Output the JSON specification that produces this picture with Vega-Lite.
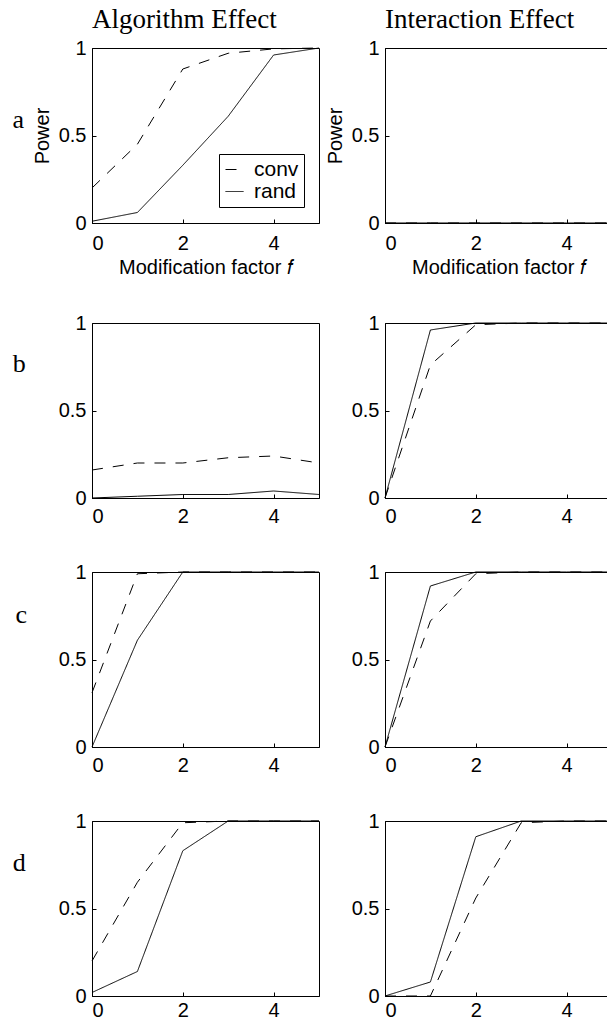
{
  "$schema": "https://vega.github.io/schema/vega-lite/v6.json",
  "padding": {"left": 12, "top": 5, "right": 0, "bottom": 0},
  "background": "white",
  "data": {"values": [
    {"row":"a","effect":"Algorithm","method":"conv","f":0,"power":0.2},
    {"row":"a","effect":"Algorithm","method":"conv","f":1,"power":0.45},
    {"row":"a","effect":"Algorithm","method":"conv","f":2,"power":0.88},
    {"row":"a","effect":"Algorithm","method":"conv","f":3,"power":0.97},
    {"row":"a","effect":"Algorithm","method":"conv","f":4,"power":0.995},
    {"row":"a","effect":"Algorithm","method":"conv","f":5,"power":1.0},
    {"row":"a","effect":"Algorithm","method":"rand","f":0,"power":0.01},
    {"row":"a","effect":"Algorithm","method":"rand","f":1,"power":0.06},
    {"row":"a","effect":"Algorithm","method":"rand","f":2,"power":0.33},
    {"row":"a","effect":"Algorithm","method":"rand","f":3,"power":0.61},
    {"row":"a","effect":"Algorithm","method":"rand","f":4,"power":0.96},
    {"row":"a","effect":"Algorithm","method":"rand","f":5,"power":1.0},
    {"row":"a","effect":"Interaction","method":"conv","f":0,"power":0},
    {"row":"a","effect":"Interaction","method":"conv","f":1,"power":0},
    {"row":"a","effect":"Interaction","method":"conv","f":2,"power":0},
    {"row":"a","effect":"Interaction","method":"conv","f":3,"power":0},
    {"row":"a","effect":"Interaction","method":"conv","f":4,"power":0},
    {"row":"a","effect":"Interaction","method":"conv","f":5,"power":0},
    {"row":"a","effect":"Interaction","method":"rand","f":0,"power":0},
    {"row":"a","effect":"Interaction","method":"rand","f":1,"power":0},
    {"row":"a","effect":"Interaction","method":"rand","f":2,"power":0},
    {"row":"a","effect":"Interaction","method":"rand","f":3,"power":0},
    {"row":"a","effect":"Interaction","method":"rand","f":4,"power":0},
    {"row":"a","effect":"Interaction","method":"rand","f":5,"power":0},
    {"row":"b","effect":"Algorithm","method":"conv","f":0,"power":0.16},
    {"row":"b","effect":"Algorithm","method":"conv","f":1,"power":0.2},
    {"row":"b","effect":"Algorithm","method":"conv","f":2,"power":0.2},
    {"row":"b","effect":"Algorithm","method":"conv","f":3,"power":0.23},
    {"row":"b","effect":"Algorithm","method":"conv","f":4,"power":0.24},
    {"row":"b","effect":"Algorithm","method":"conv","f":5,"power":0.2},
    {"row":"b","effect":"Algorithm","method":"rand","f":0,"power":0.0},
    {"row":"b","effect":"Algorithm","method":"rand","f":1,"power":0.01},
    {"row":"b","effect":"Algorithm","method":"rand","f":2,"power":0.02},
    {"row":"b","effect":"Algorithm","method":"rand","f":3,"power":0.02},
    {"row":"b","effect":"Algorithm","method":"rand","f":4,"power":0.04},
    {"row":"b","effect":"Algorithm","method":"rand","f":5,"power":0.02},
    {"row":"b","effect":"Interaction","method":"conv","f":0,"power":0},
    {"row":"b","effect":"Interaction","method":"conv","f":1,"power":0.76},
    {"row":"b","effect":"Interaction","method":"conv","f":2,"power":0.99},
    {"row":"b","effect":"Interaction","method":"conv","f":3,"power":1.0},
    {"row":"b","effect":"Interaction","method":"conv","f":4,"power":1.0},
    {"row":"b","effect":"Interaction","method":"conv","f":5,"power":1.0},
    {"row":"b","effect":"Interaction","method":"rand","f":0,"power":0},
    {"row":"b","effect":"Interaction","method":"rand","f":1,"power":0.96},
    {"row":"b","effect":"Interaction","method":"rand","f":2,"power":1.0},
    {"row":"b","effect":"Interaction","method":"rand","f":3,"power":1.0},
    {"row":"b","effect":"Interaction","method":"rand","f":4,"power":1.0},
    {"row":"b","effect":"Interaction","method":"rand","f":5,"power":1.0},
    {"row":"c","effect":"Algorithm","method":"conv","f":0,"power":0.31},
    {"row":"c","effect":"Algorithm","method":"conv","f":1,"power":0.99},
    {"row":"c","effect":"Algorithm","method":"conv","f":2,"power":1.0},
    {"row":"c","effect":"Algorithm","method":"conv","f":3,"power":1.0},
    {"row":"c","effect":"Algorithm","method":"conv","f":4,"power":1.0},
    {"row":"c","effect":"Algorithm","method":"conv","f":5,"power":1.0},
    {"row":"c","effect":"Algorithm","method":"rand","f":0,"power":0},
    {"row":"c","effect":"Algorithm","method":"rand","f":1,"power":0.61},
    {"row":"c","effect":"Algorithm","method":"rand","f":2,"power":1.0},
    {"row":"c","effect":"Algorithm","method":"rand","f":3,"power":1.0},
    {"row":"c","effect":"Algorithm","method":"rand","f":4,"power":1.0},
    {"row":"c","effect":"Algorithm","method":"rand","f":5,"power":1.0},
    {"row":"c","effect":"Interaction","method":"conv","f":0,"power":0},
    {"row":"c","effect":"Interaction","method":"conv","f":1,"power":0.72},
    {"row":"c","effect":"Interaction","method":"conv","f":2,"power":0.99},
    {"row":"c","effect":"Interaction","method":"conv","f":3,"power":1.0},
    {"row":"c","effect":"Interaction","method":"conv","f":4,"power":1.0},
    {"row":"c","effect":"Interaction","method":"conv","f":5,"power":1.0},
    {"row":"c","effect":"Interaction","method":"rand","f":0,"power":0},
    {"row":"c","effect":"Interaction","method":"rand","f":1,"power":0.92},
    {"row":"c","effect":"Interaction","method":"rand","f":2,"power":1.0},
    {"row":"c","effect":"Interaction","method":"rand","f":3,"power":1.0},
    {"row":"c","effect":"Interaction","method":"rand","f":4,"power":1.0},
    {"row":"c","effect":"Interaction","method":"rand","f":5,"power":1.0},
    {"row":"d","effect":"Algorithm","method":"conv","f":0,"power":0.2},
    {"row":"d","effect":"Algorithm","method":"conv","f":1,"power":0.65},
    {"row":"d","effect":"Algorithm","method":"conv","f":2,"power":0.99},
    {"row":"d","effect":"Algorithm","method":"conv","f":3,"power":1.0},
    {"row":"d","effect":"Algorithm","method":"conv","f":4,"power":1.0},
    {"row":"d","effect":"Algorithm","method":"conv","f":5,"power":1.0},
    {"row":"d","effect":"Algorithm","method":"rand","f":0,"power":0.02},
    {"row":"d","effect":"Algorithm","method":"rand","f":1,"power":0.14},
    {"row":"d","effect":"Algorithm","method":"rand","f":2,"power":0.83},
    {"row":"d","effect":"Algorithm","method":"rand","f":3,"power":1.0},
    {"row":"d","effect":"Algorithm","method":"rand","f":4,"power":1.0},
    {"row":"d","effect":"Algorithm","method":"rand","f":5,"power":1.0},
    {"row":"d","effect":"Interaction","method":"conv","f":0,"power":0},
    {"row":"d","effect":"Interaction","method":"conv","f":1,"power":0},
    {"row":"d","effect":"Interaction","method":"conv","f":2,"power":0.56},
    {"row":"d","effect":"Interaction","method":"conv","f":3,"power":0.99},
    {"row":"d","effect":"Interaction","method":"conv","f":4,"power":1.0},
    {"row":"d","effect":"Interaction","method":"conv","f":5,"power":1.0},
    {"row":"d","effect":"Interaction","method":"rand","f":0,"power":0},
    {"row":"d","effect":"Interaction","method":"rand","f":1,"power":0.08},
    {"row":"d","effect":"Interaction","method":"rand","f":2,"power":0.91},
    {"row":"d","effect":"Interaction","method":"rand","f":3,"power":1.0},
    {"row":"d","effect":"Interaction","method":"rand","f":4,"power":1.0},
    {"row":"d","effect":"Interaction","method":"rand","f":5,"power":1.0}
  ]},
  "config": {
    "view": {"stroke": "black", "strokeWidth": 1},
    "axis": {
      "grid": false, "domainColor": "black", "tickColor": "black",
      "labelColor": "black", "titleColor": "black",
      "labelFont": "Liberation Sans", "titleFont": "Liberation Sans",
      "labelFontSize": 20, "titleFontSize": 20, "titleFontWeight": "normal",
      "tickSize": -4
    },
    "axisX": {"labelPadding": 12, "titlePadding": 4},
    "axisY": {"labelPadding": 10, "titlePadding": 6},
    "title": {"font": "Liberation Serif", "fontSize": 27, "fontWeight": "normal", "anchor": "start", "color": "black"},
    "legend": {
      "strokeColor": "black", "fillColor": "white", "padding": 5,
      "labelFont": "Liberation Sans", "labelFontSize": 21, "labelColor": "black",
      "symbolType": "stroke", "symbolSize": 324, "symbolStrokeWidth": 1,
      "symbolStrokeColor": "black", "rowPadding": 0, "cornerRadius": 0, "labelOffset": 9
    }
  },
  "spacing": 34,
  "resolve": {"legend": {"strokeDash": "independent"}},
  "vconcat": [
    {
      "title": {"text": "a", "orient": "left", "angle": 0, "anchor": "end", "offset": -4, "dy": 101, "fontSize": 26},
      "bounds": "flush",
      "spacing": 66,
      "resolve": {"legend": {"strokeDash": "independent"}},
      "hconcat": [
        {
          "width": 227, "height": 175,
          "title": {"text": "Algorithm Effect", "offset": 4, "frame": "group"},
          "transform": [{"filter": "datum.row==='a' && datum.effect==='Algorithm'"}],
          "mark": {"type": "line", "color": "black", "strokeWidth": 1},
          "encoding": {
            "x": {"field": "f", "type": "quantitative", "scale": {"domain": [0, 5]}, "axis": {"values": [0, 2, 4], "title": "Modification factor 𝑓", "labelPadding": 14}},
            "y": {"field": "power", "type": "quantitative", "scale": {"domain": [0, 1]}, "axis": {"values": [0, 0.5, 1], "format": "~g", "title": "Power"}},
            "strokeDash": {"field": "method", "type": "nominal", "scale": {"domain": ["conv", "rand"], "range": [[11, 10], [1, 0]]}, "legend": {"title": null, "orient": "none", "legendX": 127, "legendY": 106}}
          }
        },
        {
          "width": 227, "height": 175,
          "title": {"text": "Interaction Effect", "offset": 4, "frame": "group"},
          "transform": [{"filter": "datum.row==='a' && datum.effect==='Interaction'"}],
          "mark": {"type": "line", "color": "black", "strokeWidth": 1},
          "encoding": {
            "x": {"field": "f", "type": "quantitative", "scale": {"domain": [0, 5]}, "axis": {"values": [0, 2, 4], "title": "Modification factor 𝑓", "labelPadding": 14}},
            "y": {"field": "power", "type": "quantitative", "scale": {"domain": [0, 1]}, "axis": {"values": [0, 0.5, 1], "format": "~g", "title": "Power"}},
            "strokeDash": {"field": "method", "type": "nominal", "scale": {"domain": ["conv", "rand"], "range": [[11, 10], [1, 0]]}, "legend": null}
          }
        }
      ]
    },
    {
      "title": {"text": "b", "orient": "left", "angle": 0, "anchor": "end", "offset": 19, "dy": 38, "fontSize": 26},
      "bounds": "flush", "spacing": 66,
      "resolve": {"legend": {"strokeDash": "independent"}},
      "hconcat": [
        {
          "width": 227, "height": 175,
          "transform": [{"filter": "datum.row==='b' && datum.effect==='Algorithm'"}],
          "mark": {"type": "line", "color": "black", "strokeWidth": 1},
          "encoding": {
            "x": {"field": "f", "type": "quantitative", "scale": {"domain": [0, 5]}, "axis": {"values": [0, 2, 4], "title": null}},
            "y": {"field": "power", "type": "quantitative", "scale": {"domain": [0, 1]}, "axis": {"values": [0, 0.5, 1], "format": "~g", "title": null}},
            "strokeDash": {"field": "method", "type": "nominal", "scale": {"domain": ["conv", "rand"], "range": [[11, 10], [1, 0]]}, "legend": null}
          }
        },
        {
          "width": 227, "height": 175,
          "transform": [{"filter": "datum.row==='b' && datum.effect==='Interaction'"}],
          "mark": {"type": "line", "color": "black", "strokeWidth": 1},
          "encoding": {
            "x": {"field": "f", "type": "quantitative", "scale": {"domain": [0, 5]}, "axis": {"values": [0, 2, 4], "title": null}},
            "y": {"field": "power", "type": "quantitative", "scale": {"domain": [0, 1]}, "axis": {"values": [0, 0.5, 1], "format": "~g", "title": null}},
            "strokeDash": {"field": "method", "type": "nominal", "scale": {"domain": ["conv", "rand"], "range": [[11, 10], [1, 0]]}, "legend": null}
          }
        }
      ]
    },
    {
      "title": {"text": "c", "orient": "left", "angle": 0, "anchor": "end", "offset": 19, "dy": 40, "fontSize": 26},
      "bounds": "flush", "spacing": 66,
      "resolve": {"legend": {"strokeDash": "independent"}},
      "hconcat": [
        {
          "width": 227, "height": 175,
          "transform": [{"filter": "datum.row==='c' && datum.effect==='Algorithm'"}],
          "mark": {"type": "line", "color": "black", "strokeWidth": 1},
          "encoding": {
            "x": {"field": "f", "type": "quantitative", "scale": {"domain": [0, 5]}, "axis": {"values": [0, 2, 4], "title": null}},
            "y": {"field": "power", "type": "quantitative", "scale": {"domain": [0, 1]}, "axis": {"values": [0, 0.5, 1], "format": "~g", "title": null}},
            "strokeDash": {"field": "method", "type": "nominal", "scale": {"domain": ["conv", "rand"], "range": [[11, 10], [1, 0]]}, "legend": null}
          }
        },
        {
          "width": 227, "height": 175,
          "transform": [{"filter": "datum.row==='c' && datum.effect==='Interaction'"}],
          "mark": {"type": "line", "color": "black", "strokeWidth": 1},
          "encoding": {
            "x": {"field": "f", "type": "quantitative", "scale": {"domain": [0, 5]}, "axis": {"values": [0, 2, 4], "title": null}},
            "y": {"field": "power", "type": "quantitative", "scale": {"domain": [0, 1]}, "axis": {"values": [0, 0.5, 1], "format": "~g", "title": null}},
            "strokeDash": {"field": "method", "type": "nominal", "scale": {"domain": ["conv", "rand"], "range": [[11, 10], [1, 0]]}, "legend": null}
          }
        }
      ]
    },
    {
      "title": {"text": "d", "orient": "left", "angle": 0, "anchor": "end", "offset": 19, "dy": 39, "fontSize": 26},
      "bounds": "flush", "spacing": 66,
      "resolve": {"legend": {"strokeDash": "independent"}},
      "hconcat": [
        {
          "width": 227, "height": 175,
          "transform": [{"filter": "datum.row==='d' && datum.effect==='Algorithm'"}],
          "mark": {"type": "line", "color": "black", "strokeWidth": 1},
          "encoding": {
            "x": {"field": "f", "type": "quantitative", "scale": {"domain": [0, 5]}, "axis": {"values": [0, 2, 4], "title": null, "labelPadding": 8}},
            "y": {"field": "power", "type": "quantitative", "scale": {"domain": [0, 1]}, "axis": {"values": [0, 0.5, 1], "format": "~g", "title": null}},
            "strokeDash": {"field": "method", "type": "nominal", "scale": {"domain": ["conv", "rand"], "range": [[11, 10], [1, 0]]}, "legend": null}
          }
        },
        {
          "width": 227, "height": 175,
          "transform": [{"filter": "datum.row==='d' && datum.effect==='Interaction'"}],
          "mark": {"type": "line", "color": "black", "strokeWidth": 1},
          "encoding": {
            "x": {"field": "f", "type": "quantitative", "scale": {"domain": [0, 5]}, "axis": {"values": [0, 2, 4], "title": null, "labelPadding": 8}},
            "y": {"field": "power", "type": "quantitative", "scale": {"domain": [0, 1]}, "axis": {"values": [0, 0.5, 1], "format": "~g", "title": null}},
            "strokeDash": {"field": "method", "type": "nominal", "scale": {"domain": ["conv", "rand"], "range": [[11, 10], [1, 0]]}, "legend": null}
          }
        }
      ]
    }
  ]
}
